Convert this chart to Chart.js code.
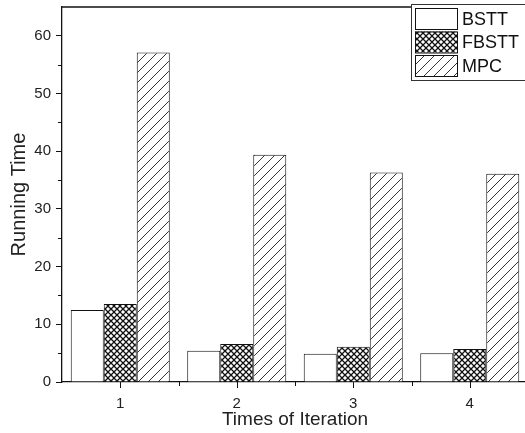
<html>
<head>
<meta charset="UTF-8">
<title>Running Time vs Times of Iteration</title>
<script src="https://cdn.jsdelivr.net/npm/chart.js@4.4.1/dist/chart.umd.min.js"></script>
<style>
  body { margin: 0; background: #fff; overflow: hidden; }
  #wrap { width: 525px; height: 433px; overflow: hidden; }
</style>
</head>
<body>
<div id="wrap">
  <canvas id="myChart" width="545" height="433"></canvas>
</div>
<script type="text/javascript">
  var iterations = ['1', '2', '3', '4'];
  var seriesNames = ['BSTT', 'FBSTT', 'MPC'];
  var bsttValues = [12.5, 5.4, 4.9, 5.0];
  var fbsttValues = [13.5, 6.6, 6.1, 5.7];
  var mpcValues = [57.1, 39.4, 36.3, 36.1];
  var yTicks = [0, 10, 20, 30, 40, 50, 60];

  var fontFamily = '"Liberation Sans", Arial, sans-serif';

  // cross-hatch tile for FBSTT
  function crossPattern() {
    var c = document.createElement('canvas');
    c.width = 6; c.height = 6;
    var g = c.getContext('2d');
    g.fillStyle = '#fff';
    g.fillRect(0, 0, 6, 6);
    g.strokeStyle = '#111';
    g.lineWidth = 1.3;
    g.beginPath();
    g.moveTo(-1, -1); g.lineTo(7, 7);
    g.moveTo(-1, 7); g.lineTo(7, -1);
    g.stroke();
    return g.createPattern(c, 'repeat');
  }

  // diagonal hatch tile for MPC
  function hatchPattern() {
    var c = document.createElement('canvas');
    c.width = 10; c.height = 10;
    var g = c.getContext('2d');
    g.fillStyle = '#fff';
    g.fillRect(0, 0, 10, 10);
    g.strokeStyle = '#333';
    g.lineWidth = 1;
    g.beginPath();
    g.moveTo(-1, 11); g.lineTo(11, -1);
    g.moveTo(-6, 6); g.lineTo(6, -6);
    g.moveTo(4, 16); g.lineTo(16, 4);
    g.stroke();
    return g.createPattern(c, 'repeat');
  }

  var fills = ['#fff', crossPattern(), hatchPattern()];

  // frame top line, x ticks, minor ticks and boxed legend
  var extras = {
    id: 'extras',
    afterDraw: function(chart) {
      var ctx = chart.ctx;
      var a = chart.chartArea;
      var xs = chart.scales.x, ys = chart.scales.y;
      ctx.save();
      ctx.strokeStyle = '#111';
      ctx.lineWidth = 1.3;
      ctx.beginPath();
      ctx.moveTo(a.left, a.top); ctx.lineTo(a.right, a.top);
      ctx.stroke();
      ctx.lineWidth = 1;
      ctx.beginPath();
      for (var j = 0; j < iterations.length; j++) {
        var cx = Math.round(xs.getPixelForValue(j)) + 0.5;
        ctx.moveTo(cx, a.bottom); ctx.lineTo(cx, a.bottom + 6);
      }
      for (var v = 5; v < 65; v += 10) {
        var py = Math.round(ys.getPixelForValue(v)) + 0.5;
        ctx.moveTo(a.left - 4, py); ctx.lineTo(a.left, py);
      }
      for (var i = 0; i < iterations.length - 1; i++) {
        var px = Math.round((xs.getPixelForValue(i) + xs.getPixelForValue(i + 1)) / 2) + 0.5;
        ctx.moveTo(px, a.bottom); ctx.lineTo(px, a.bottom + 4);
      }
      ctx.stroke();

      // legend
      var lx = 411, ly = 4, lw = 125, lh = 76;
      ctx.fillStyle = '#fff';
      ctx.fillRect(lx, ly, lw, lh);
      ctx.strokeStyle = '#333';
      ctx.lineWidth = 1;
      ctx.strokeRect(lx + 0.5, ly + 0.5, lw, lh);
      ctx.font = '18px ' + fontFamily;
      ctx.textBaseline = 'middle';
      for (var k = 0; k < seriesNames.length; k++) {
        var ry = ly + 4 + k * 23.5;
        ctx.fillStyle = fills[k];
        ctx.fillRect(415, ry, 42, 21);
        ctx.strokeStyle = '#111';
        ctx.strokeRect(415.5, ry + 0.5, 42, 21);
        ctx.fillStyle = '#111';
        ctx.fillText(seriesNames[k], 462, ry + 12);
      }
      ctx.restore();
    }
  };

  var ctx = document.getElementById('myChart').getContext('2d');
  var myChart = new Chart(ctx, {
    type: 'bar',
    data: {
      labels: iterations,
      datasets: [
        { label: seriesNames[0], data: bsttValues, backgroundColor: fills[0], borderColor: '#111', borderWidth: 1 },
        { label: seriesNames[1], data: fbsttValues, backgroundColor: fills[1], borderColor: '#111', borderWidth: 1 },
        { label: seriesNames[2], data: mpcValues, backgroundColor: fills[2], borderColor: '#111', borderWidth: 1 }
      ]
    },
    options: {
      responsive: false,
      animation: false,
      devicePixelRatio: 1,
      layout: { padding: { left: 0, top: 7, right: 17, bottom: 0 } },
      datasets: { bar: { categoryPercentage: 0.85, barPercentage: 1 } },
      plugins: { legend: { display: false }, tooltip: { enabled: false } },
      scales: {
        x: {
          grid: { display: false },
          border: { display: true, color: '#111', width: 1.3 },
          ticks: { color: '#222', padding: 5, font: { family: fontFamily, size: 15 } },
          title: { display: true, text: 'Times of Iteration', color: '#222', padding: { top: 0, bottom: 2 },
                   font: { family: fontFamily, size: 19 } },
          afterFit: function(s) {
            s.height = 51;
            s.paddingLeft = 0; s.paddingRight = 0;
          }
        },
        y: {
          min: 0, max: 65,
          grid: { display: true, drawOnChartArea: false, tickLength: 6, tickColor: '#111' },
          border: { color: '#111', width: 1.3 },
          ticks: { stepSize: 10, color: '#222', padding: 5, font: { family: fontFamily, size: 15 } },
          afterBuildTicks: function(s) {
            s.ticks = yTicks.map(function(v) { return { value: v }; });
          },
          title: { display: true, text: 'Running Time', color: '#222', padding: { top: 7, bottom: 0 },
                   font: { family: fontFamily, size: 20 } },
          afterFit: function(s) {
            s.width = 62;
            s.paddingTop = 0; s.paddingBottom = 0;
          }
        }
      }
    },
    plugins: [extras]
  });
</script>
</body>
</html>
